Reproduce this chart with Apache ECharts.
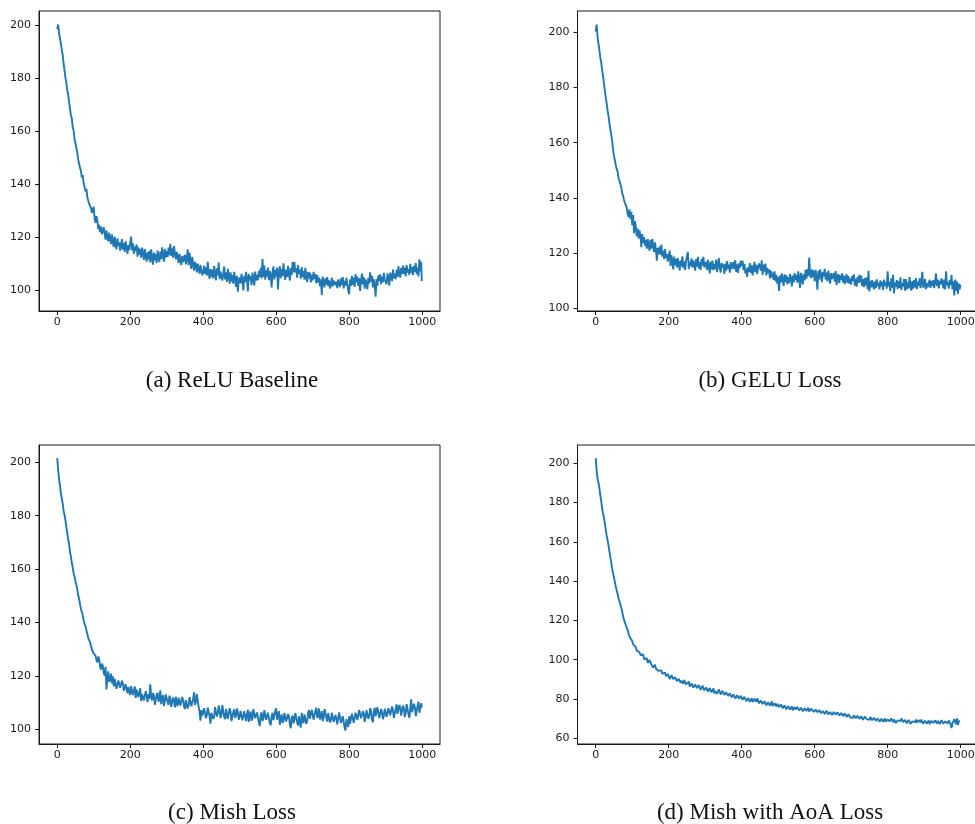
<!DOCTYPE html>
<html>
<head>
<meta charset="utf-8">
<script src="https://cdn.jsdelivr.net/npm/echarts@6.0.0/dist/echarts.min.js"></script>
<style>
html,body{margin:0;padding:0;background:#fff;}
#chart{width:975px;height:824px;}
</style>
</head>
<body>
<div id="chart"></div>
<script>
// Readings taken every 2.5 iterations (0..997.5) plus the final iteration 999
const sampleEvery = 2.5;
const lastIter = 999;

const captions = ['(a) ReLU Baseline', '(b) GELU Loss', '(c) Mish Loss', '(d) Mish with AoA Loss'];

const xTicks = [0, 200, 400, 600, 800, 1000];
const yTicksA = [100, 120, 140, 160, 180, 200];
const yTicksB = [100, 120, 140, 160, 180, 200];
const yTicksC = [100, 120, 140, 160, 180, 200];
const yTicksD = [60, 80, 100, 120, 140, 160, 180, 200];

const reluBaseline = [
198.6,200.4,197.1,195.3,193.2,190.8,188.9,185.7,183.1,180.3,
178.4,175.6,173.9,171.1,168.8,166.2,164.9,161.6,160.4,157.1,
155.6,153.8,152.1,149.4,148.9,146.3,145.2,142.6,143.6,140.4,
139.1,137.5,138.4,135.2,134.6,132.8,133.5,131.1,129.3,130.8,
131.6,127.2,125.6,128.1,126.4,123.2,124.8,122.1,124.1,121.3,
120.8,123.9,121.4,119.2,122.7,120.1,118.6,121.9,119.3,117.6,
121.2,118.1,116.4,120.4,117.3,115.6,119.7,116.8,118.2,115.1,
117.3,119.4,115.4,117.9,114.6,118.6,116.1,113.9,117.2,115.3,
118.1,120.4,115.2,117.8,113.9,116.6,114.9,117.4,112.8,116.3,
113.6,115.8,112.4,116.2,114.1,111.6,115.7,113.1,110.9,114.4,
111.8,114.9,110.6,115.6,112.2,109.8,114.3,111.4,113.8,110.4,
115.1,112.6,110.8,114.7,111.9,116.3,113.2,110.9,115.8,112.4,
114.9,112.7,116.2,113.4,117.6,113.1,115.9,112.4,116.8,114.2,
111.8,114.6,112.9,110.4,113.9,111.2,109.6,113.1,110.8,112.4,
113.5,109.9,112.1,115.6,109.6,114.3,111.3,108.2,112.7,110.1,
107.5,110.8,109.8,106.9,110.2,108.1,106.4,109.7,107.6,105.8,
107.1,109.4,106.3,108.8,105.6,110.9,106.8,104.4,108.1,105.2,
107.9,104.6,109.3,106.2,103.9,108.4,105.7,110.6,104.3,107.2,
107.6,103.8,106.4,109.1,104.2,106.9,103.3,108.2,105.8,102.6,
106.9,103.4,105.8,102.6,107.1,104.2,101.4,105.6,99.6,104.1,
104.9,102.7,106.3,103.8,100.1,105.6,103.2,107.1,104.4,99.7,
106.2,103.9,105.4,102.1,106.8,104.6,101.9,107.2,103.8,105.9,
103.9,107.5,105.1,108.6,104.6,111.9,105.2,109.4,104.1,107.6,
105.3,108.7,103.9,107.4,105.8,101.2,106.9,109.1,104.2,107.8,
105.3,108.7,100.4,106.8,109.2,104.7,108.1,105.5,110.3,106.2,
104.1,107.9,105.2,109.3,106.4,103.8,108.5,105.9,110.8,106.9,
110.8,106.9,108.4,104.9,109.6,106.3,107.8,104.5,108.9,105.2,
107.4,104.1,108.6,105.3,103.2,107.1,104.6,106.8,103.1,105.9,
103.8,107.1,104.4,106.2,102.7,105.8,103.1,104.9,101.6,104.3,
98.4,105.3,103.1,101.2,104.6,102.3,105.1,101.7,103.9,100.8,
102.4,104.9,101.6,103.8,104.1,102.1,103.4,100.9,104.2,102.8,
101.3,104.6,102.2,105.1,100.8,103.7,101.9,104.8,102.4,100.2,
98.6,104.3,101.8,105.6,102.2,104.9,101.4,106.2,103.1,105.3,
101.8,104.6,99.9,103.8,106.4,102.3,105.1,100.7,104.2,102.6,
100.5,104.8,102.7,106.9,103.4,105.6,101.2,104.3,102.1,97.7,
104.4,101.9,105.8,103.6,106.1,102.4,105.3,103.2,106.7,104.1,
104.2,102.4,106.5,104.8,101.9,106.8,105.1,103.6,107.9,104.6,
106.4,104.3,107.8,105.2,109.2,106.1,104.9,108.6,106.3,109.4,
106.3,108.7,105.4,109.6,106.8,108.2,105.9,110.1,106.7,108.9,
105.8,109.3,107.1,110.4,106.2,108.7,105.4,111.8,107.2,110.9,
103.6
];

const geluLoss = [
200.2,202.8,198.4,195.9,193.6,190.8,189.1,186.4,184.2,181.6,
178.9,176.3,174.2,171.6,169.8,167.1,164.9,162.8,160.7,157.6,
155.1,153.6,151.8,150.4,149.6,147.1,146.2,144.9,143.9,141.6,
140.8,139.2,138.2,137.6,136.4,134.2,133.1,135.8,132.4,134.9,
130.1,133.8,127.2,131.6,129.4,126.1,128.9,125.3,128.2,126.4,
122.1,126.9,123.7,125.8,122.6,124.8,121.6,125.1,122.4,120.9,
124.8,121.6,125.1,122.4,120.3,123.9,121.2,117.2,121.8,119.6,
122.3,119.4,123.1,118.7,120.9,117.8,121.4,118.2,119.6,116.9,
118.6,120.9,115.3,119.2,116.8,114.1,118.7,115.6,117.9,114.8,
118.2,115.9,113.7,117.4,115.2,118.8,114.6,116.9,113.9,117.1,
117.6,120.4,114.2,116.9,115.3,118.1,114.7,117.3,115.9,113.6,
117.8,115.1,118.6,114.4,116.7,113.9,117.9,115.4,118.6,114.8,
114.4,116.8,113.9,117.5,115.2,112.6,116.9,114.1,117.3,113.8,
116.1,114.2,117.6,113.1,115.8,118.2,114.5,112.9,116.4,114.7,
115.9,112.4,116.2,113.6,117.1,114.3,115.8,112.9,116.7,114.2,
113.6,116.8,114.1,117.4,113.2,115.9,112.8,116.3,114.6,117.2,
115.3,117.2,113.8,116.1,112.6,114.4,111.4,114.9,113.2,116.4,
112.8,115.6,111.9,114.3,116.8,113.1,115.7,112.4,114.9,116.2,
116.9,113.7,117.4,112.1,115.8,113.4,116.2,111.9,114.6,112.8,
114.1,110.8,113.6,111.2,112.9,110.3,113.4,109.8,112.1,108.9,
111.4,106.3,111.8,109.4,112.6,110.2,108.1,112.3,109.6,111.9,
108.7,111.3,109.1,112.4,110.6,107.9,111.8,109.3,112.7,110.2,
112.1,109.3,113.4,110.6,107.4,112.8,110.9,108.6,112.4,110.1,
113.8,110.7,114.2,111.6,118.4,112.6,110.9,114.1,111.3,113.6,
109.8,113.9,111.2,106.7,113.6,110.4,114.1,111.8,109.5,113.2,
111.6,114.3,110.4,112.9,109.7,113.6,111.2,108.9,112.7,110.6,
110.8,112.7,109.6,113.5,108.4,111.2,112.4,109.1,111.9,110.3,
112.6,109.4,111.8,108.7,110.9,112.3,109.2,111.6,108.9,110.7,
108.6,111.7,109.9,112.3,108.2,110.6,107.8,111.4,109.2,112.1,
109.4,111.8,108.1,110.6,107.6,110.9,108.3,111.2,106.9,113.6,
106.1,109.8,107.6,110.2,108.4,106.9,109.7,107.3,110.5,108.1,
109.2,106.8,110.1,107.9,109.6,106.6,110.4,108.2,109.4,107.1,
113.4,107.9,109.6,106.2,110.8,107.5,112.1,105.4,109.3,107.8,
110.2,106.9,109.8,107.4,111.2,106.6,109.1,107.9,110.6,106.4,
110.6,106.8,109.4,107.2,111.3,108.1,106.4,109.8,107.1,110.2,
107.6,110.9,106.9,109.6,108.1,110.8,107.3,109.9,113.2,107.4,
108.4,110.6,106.9,109.2,107.6,108.9,110.3,107.4,109.8,108.1,
110.2,107.3,109.6,112.6,108.1,110.4,107.2,109.9,108.6,110.8,
109.7,107.2,110.4,106.8,113.4,108.3,109.5,107.1,110.2,108.4,
112.1,106.9,109.8,104.6,110.4,106.3,109.7,105.2,108.9,106.8,
108.6
];

const mishLoss = [
201.6,197.2,193.8,191.4,188.6,189.2,184.5,181.9,180.2,178.4,
175.8,173.6,171.1,169.4,166.4,164.8,162.3,160.6,158.4,157.2,
155.3,154.1,152.4,150.2,148.9,146.8,145.1,143.9,142.6,140.8,
139.4,138.6,137.1,135.8,134.2,133.6,132.6,131.3,129.9,130.4,
128.4,129.1,127.6,125.9,125.1,127.3,126.2,123.4,122.4,124.6,
123.8,121.2,120.1,123.4,114.9,119.6,121.7,117.8,118.6,120.9,
117.2,119.8,116.1,118.9,118.4,115.2,114.6,118.3,117.9,115.6,
115.3,118.2,117.1,114.4,113.8,116.9,116.4,113.6,115.9,114.1,
112.9,116.2,115.6,112.8,113.4,116.1,111.8,114.9,114.7,112.1,
112.3,115.4,110.6,113.2,113.9,110.8,111.4,114.3,112.6,110.2,
113.2,111.4,116.9,112.3,110.8,113.6,112.6,109.2,108.9,112.9,
113.7,110.4,111.3,114.6,109.4,111.8,112.8,108.7,110.6,113.1,
112.9,110.1,109.1,112.6,111.4,108.4,108.3,111.9,110.9,108.2,
112.2,109.6,108.7,111.8,111.6,108.9,109.3,112.1,110.8,108.5,
107.6,110.9,110.4,107.8,108.9,112.1,111.7,108.6,109.2,111.4,
113.9,109.1,110.3,113.2,112.8,108.4,106.7,103.2,107.2,105.1,
104.6,107.9,107.8,104.2,105.3,108.1,108.4,104.9,102.1,106.2,
106.9,103.9,104.7,108.3,108.6,104.8,105.9,108.9,107.3,104.2,
105.4,109.1,108.9,104.6,103.8,107.6,107.1,103.9,104.4,107.9,
106.8,103.1,102.9,106.4,107.5,104.3,105.2,107.8,106.4,103.6,
104.6,106.9,107.2,103.4,103.9,106.8,106.1,103.1,105.3,107.4,
102.8,105.6,106.7,103.2,104.1,107.6,107.4,104.2,103.6,106.3,
105.9,102.6,101.2,105.3,106.4,103.1,104.1,107.2,107.3,103.6,
103.2,106.2,105.8,102.4,101.6,104.9,106.2,103.4,103.8,106.9,
107.9,103.6,104.3,106.8,101.7,104.2,105.6,102.4,103.2,106.1,
106.3,102.9,102.8,105.7,104.9,101.8,100.4,104.3,105.1,102.2,
103.6,106.1,105.7,102.6,101.4,104.9,104.8,100.6,106.2,103.4,
102.3,105.6,105.4,102.1,103.1,106.3,107.2,103.9,104.6,107.4,
106.9,103.6,103.4,106.9,108.1,104.3,105.2,107.8,103.7,104.9,
106.8,103.1,104.2,107.6,108.3,104.4,102.9,106.1,105.7,102.6,
103.4,106.2,106.6,102.8,102.1,105.4,105.3,101.9,104.2,106.3,
106.1,102.4,101.8,104.9,104.4,100.7,99.6,103.8,103.2,100.9,
104.9,102.1,102.7,105.9,105.8,102.4,103.1,106.2,106.4,103.5,
104.2,107.3,107.1,104.1,103.6,106.8,105.9,102.8,104.4,107.2,
107.3,103.9,104.8,107.9,106.9,103.6,102.7,106.4,108.1,104.9,
105.4,108.3,107.6,104.2,104.9,107.6,106.3,103.8,105.1,107.7,
107.8,104.7,104.6,107.9,108.3,105.2,105.9,108.6,107.2,104.3,
104.1,107.4,109.4,105.8,106.3,109.1,108.2,105.1,105.8,108.9,
107.9,104.6,106.2,109.4,109.1,105.7,104.3,107.9,111.2,106.4,
106.8,109.6,108.4,104.9,105.1,108.8,110.3,106.2,106.9,109.8,
108.1
];

const mishAoaLoss = [
202.6,196.4,192.3,190.1,187.4,183.8,180.9,177.2,174.6,172.3,
169.4,166.1,163.1,160.9,158.2,155.1,152.1,149.6,146.4,144.1,
141.8,139.6,137.2,135.1,133.6,131.2,129.8,128.1,126.4,124.6,
122.1,120.4,119.7,117.6,116.4,115.1,113.2,112.4,110.9,110.2,
109.6,107.8,107.1,106.9,106.4,104.6,104.2,105.1,103.8,102.4,
101.6,103.1,102.7,100.2,99.4,100.9,100.8,98.4,98.6,99.8,
99.1,97.6,97.2,96.1,96.8,97.4,95.4,94.6,96.1,94.3,
93.9,95.2,94.6,92.8,92.4,93.6,93.5,91.6,91.2,92.7,
91.8,90.2,90.4,92.1,92.3,90.1,89.6,91.2,90.9,89.1,
88.7,90.3,90.1,88.2,89.3,88.9,87.8,89.7,89.6,87.4,
87.2,88.4,88.9,86.3,85.4,87.9,87.6,85.8,86.1,87.4,
87.9,85.6,85.3,87.1,86.7,84.6,84.9,86.8,86.2,84.4,
84.6,85.9,86.1,83.7,83.9,85.6,85.3,83.4,84.2,85.4,
82.9,84.1,84.8,82.6,83.1,84.9,84.4,82.3,82.6,84.2,
83.7,82.1,81.9,83.4,83.2,81.6,81.4,82.9,82.6,80.9,
80.8,82.4,82.1,80.3,80.6,81.9,81.8,80.2,80.1,81.6,
81.3,79.6,79.4,81.1,80.7,78.9,78.9,80.6,80.2,78.6,
79.3,80.4,78.4,77.6,80.1,79.2,78.6,80.3,79.4,77.8,
77.8,79.3,79.1,77.4,77.2,78.9,78.6,76.8,76.9,78.4,
78.3,76.6,77.6,78.8,76.4,75.9,77.9,77.1,76.2,77.6,
77.1,75.9,75.8,77.2,76.9,75.3,75.2,76.8,76.6,74.8,
74.9,76.4,76.3,74.6,75.4,76.2,74.2,74.8,75.9,74.7,
74.6,75.9,75.8,74.2,74.1,75.6,75.4,73.7,73.8,75.3,
75.2,73.9,74.5,75.6,73.6,73.3,75.1,74.4,74.2,73.5,
73.4,74.6,74.8,73.3,73.1,74.4,74.2,72.8,72.6,73.9,
73.9,72.4,72.8,74.1,73.5,72.2,71.9,73.4,73.2,71.8,
72.3,73.4,73.6,72.1,71.8,73.2,72.9,71.6,71.4,72.9,
72.7,71.3,71.2,72.6,72.4,70.9,70.8,72.2,72.1,70.6,
71.2,70.3,70.4,71.7,71.8,70.2,70.1,71.5,71.3,69.9,
69.8,71.2,70.9,69.4,69.6,71.1,71.4,69.8,70.2,69.3,
69.4,70.8,70.6,69.2,69.1,70.4,70.3,68.9,68.8,70.1,
69.9,68.5,68.6,69.9,69.8,68.4,69.2,70.1,68.4,67.9,
69.7,70.3,68.6,68.1,70.1,69.2,68.2,69.6,69.4,67.8,
67.6,69.1,69.2,68.1,68.7,70.1,69.8,68.2,68.3,69.4,
69.1,67.7,67.8,69.4,68.9,67.3,66.7,68.6,69.4,67.8,
68.2,69.6,67.9,67.1,69.3,68.4,68.1,69.5,68.8,67.4,
67.6,68.9,69.2,67.5,68.4,69.1,67.3,67.6,68.9,68.6,
67.8,66.9,69.1,68.3,67.5,68.9,68.6,67.2,67.9,69.2,
68.3,67.4,67.1,68.6,69.4,67.8,67.6,69.1,68.8,67.3,
65.2,67.4,67.9,69.8,68.4,67.2,70.1,66.8,68.4,69.1,
68.1
];

function toPairs(values) {
  return values.map((v, i) => [Math.min(i * sampleEvery, lastIter), v]);
}

const panels = [
  { values: reluBaseline, yTicks: yTicksA, yMin: 92.3, yMax: 205.5, grid: { left: 39, top: 11, width: 401, height: 300 }, cap: { x: 232, y: 369 } },
  { values: geluLoss, yTicks: yTicksB, yMin: 99.0, yMax: 207.7, grid: { left: 577.5, top: 11, width: 401, height: 300 }, cap: { x: 770, y: 369 } },
  { values: mishLoss, yTicks: yTicksC, yMin: 94.5, yMax: 206.5, grid: { left: 39, top: 445, width: 401, height: 299 }, cap: { x: 232, y: 801 } },
  { values: mishAoaLoss, yTicks: yTicksD, yMin: 57.1, yMax: 209.3, grid: { left: 577.5, top: 445, width: 401, height: 299 }, cap: { x: 770, y: 801 } }
];

const labelStyle = { color: '#1a1a1a', fontFamily: 'DejaVu Sans', fontSize: 11, formatter: v => String(v) };
const lineCol = '#1a1a1a';

const option = {
  animation: false,
  backgroundColor: '#fff',
  title: panels.map((p, i) => ({
    text: captions[i],
    left: p.cap.x,
    top: p.cap.y,
    textAlign: 'center',
    padding: 0,
    textStyle: { fontFamily: 'Liberation Serif', fontSize: 23, fontWeight: 'normal', color: '#111' }
  })),
  grid: panels.map(p => Object.assign({ show: true, borderColor: lineCol, borderWidth: 1, backgroundColor: 'transparent', containLabel: false, outerBoundsMode: 'none' }, p.grid)),
  xAxis: panels.map((p, i) => ({
    type: 'value', gridIndex: i, min: -49.95, max: 1048.95,
    axisLine: { show: true, onZero: false, lineStyle: { color: lineCol, width: 1 } },
    axisTick: { show: true, length: 4, customValues: xTicks, lineStyle: { color: lineCol } },
    axisLabel: Object.assign({ margin: 6, customValues: xTicks, hideOverlap: false }, labelStyle),
    splitLine: { show: false }
  })),
  yAxis: panels.map((p, i) => ({
    type: 'value', gridIndex: i, min: p.yMin, max: p.yMax,
    axisLine: { show: true, onZero: false, lineStyle: { color: lineCol, width: 1 } },
    axisTick: { show: true, length: 4, customValues: p.yTicks, lineStyle: { color: lineCol } },
    axisLabel: Object.assign({ margin: 8, customValues: p.yTicks }, labelStyle),
    splitLine: { show: false }
  })),
  series: panels.map((p, i) => ({
    type: 'line', xAxisIndex: i, yAxisIndex: i,
    data: toPairs(p.values),
    showSymbol: false, symbol: 'none',
    lineStyle: { color: '#1f77b4', width: 1.9 },
    clip: true
  }))
};

const chart = echarts.init(document.getElementById('chart'), null, { renderer: 'canvas' });
chart.setOption(option);
</script>
</body>
</html>
